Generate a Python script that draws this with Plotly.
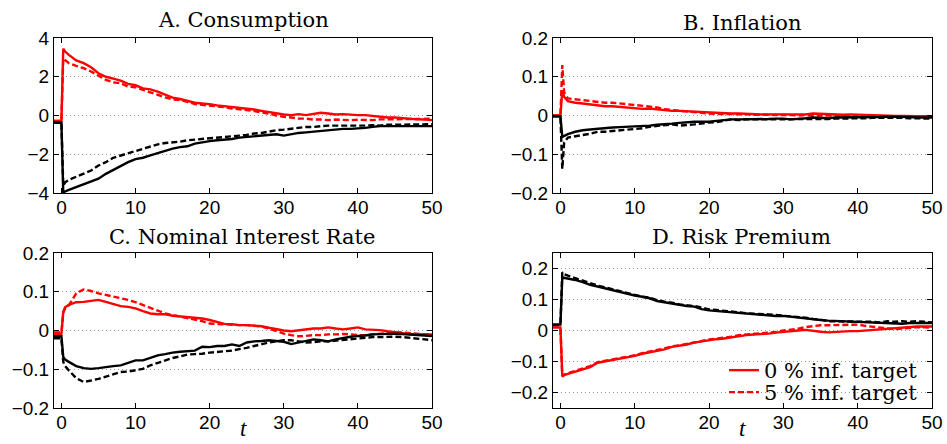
import plotly.graph_objects as go

# time grid (periods); shock hits at t = 0
t = [-1, 0, 0.25, 0.5] + list(range(1, 51))

# ---------------- A. Consumption ----------------
cons_red_0 = [-0.28, -0.28, 3.45, 3.30,
    3.13, 2.84, 2.70, 2.49, 2.18, 2.00, 1.90, 1.80, 1.63, 1.56,
    1.40, 1.35, 1.23, 1.06, 0.92, 0.85, 0.76, 0.66, 0.62, 0.59,
    0.52, 0.48, 0.43, 0.38, 0.35, 0.31, 0.24, 0.17, 0.10, 0.05,
    0.02, 0.07, 0.02, 0.09, 0.14, 0.10, 0.05, 0.07, 0.03, 0.02,
    0.02, -0.02, -0.07, -0.10, -0.10, -0.14, -0.17, -0.20, -0.21, -0.24]
cons_red_5 = [-0.28, -0.28, 2.95, 2.85,
    2.70, 2.56, 2.44, 2.27, 2.04, 1.84, 1.71, 1.66, 1.49, 1.45,
    1.32, 1.18, 1.06, 0.94, 0.83, 0.80, 0.71, 0.59, 0.55, 0.52,
    0.48, 0.43, 0.36, 0.33, 0.28, 0.23, 0.17, 0.10, 0.00, -0.07,
    -0.10, -0.16, -0.16, -0.21, -0.21, -0.24, -0.21, -0.24, -0.24, -0.22,
    -0.24, -0.24, -0.20, -0.20, -0.17, -0.20, -0.17, -0.17, -0.20, -0.17]
cons_blk_0 = [-0.38, -0.36, -4.00, -3.92,
    -3.84, -3.70, -3.57, -3.39, -3.26, -3.01, -2.81, -2.58, -2.41, -2.25,
    -2.18, -2.06, -1.94, -1.84, -1.71, -1.63, -1.59, -1.45, -1.37, -1.32,
    -1.28, -1.25, -1.21, -1.14, -1.11, -1.07, -1.04, -0.99, -0.97, -1.04,
    -0.97, -0.90, -0.87, -0.83, -0.78, -0.76, -0.73, -0.69, -0.69, -0.68,
    -0.64, -0.59, -0.54, -0.55, -0.54, -0.54, -0.55, -0.55, -0.55, -0.55]
cons_blk_5 = [-0.35, -0.35, -3.62, -3.45,
    -3.32, -3.15, -3.01, -2.84, -2.58, -2.41, -2.18, -2.06, -1.94, -1.84,
    -1.71, -1.59, -1.49, -1.42, -1.39, -1.35, -1.28, -1.25, -1.21, -1.18,
    -1.16, -1.11, -1.07, -1.04, -1.00, -0.93, -0.90, -0.83, -0.76, -0.73,
    -0.69, -0.64, -0.59, -0.59, -0.55, -0.52, -0.52, -0.52, -0.54, -0.55,
    -0.52, -0.50, -0.52, -0.48, -0.48, -0.48, -0.47, -0.45, -0.45, -0.45]

# ---------------- B. Inflation ----------------
infl_red_0 = [0.0, 0.0, 0.065, 0.048,
    0.037, 0.033, 0.031, 0.029, 0.027, 0.024, 0.024, 0.022, 0.020, 0.019,
    0.017, 0.018, 0.016, 0.014, 0.012, 0.012, 0.011, 0.010, 0.009, 0.007,
    0.006, 0.005, 0.005, 0.005, 0.004, 0.004, 0.003, 0.003, 0.003, 0.002,
    0.003, 0.002, 0.003, 0.005, 0.004, 0.003, 0.003, 0.002, 0.003, 0.002,
    0.001, 0.001, 0.000, 0.000, -0.001, -0.001, -0.002, -0.002, -0.002, -0.002]
infl_red_5 = [0.0, 0.0, 0.130, 0.060,
    0.044, 0.042, 0.040, 0.037, 0.035, 0.033, 0.033, 0.031, 0.029, 0.026,
    0.024, 0.022, 0.021, 0.016, 0.014, 0.012, 0.010, 0.009, 0.007, 0.005,
    0.004, 0.004, 0.003, 0.003, 0.003, 0.002, 0.002, 0.002, 0.001, 0.001,
    0.001, 0.000, 0.001, 0.000, 0.000, 0.001, 0.000, 0.000, 0.000, 0.000,
    -0.001, -0.001, -0.001, -0.002, -0.002, -0.002, -0.003, -0.003, -0.003, -0.003]
infl_blk_0 = [-0.002, -0.002, -0.055, -0.052,
    -0.048, -0.042, -0.038, -0.036, -0.034, -0.032, -0.031, -0.030, -0.029, -0.029,
    -0.028, -0.026, -0.024, -0.023, -0.021, -0.019, -0.017, -0.016, -0.016, -0.016,
    -0.014, -0.012, -0.010, -0.010, -0.010, -0.009, -0.009, -0.009, -0.008, -0.008,
    -0.010, -0.009, -0.007, -0.005, -0.006, -0.007, -0.005, -0.005, -0.004, -0.005,
    -0.004, -0.004, -0.004, -0.003, -0.003, -0.004, -0.004, -0.005, -0.005, -0.005]
infl_blk_5 = [-0.002, -0.002, -0.138, -0.070,
    -0.057, -0.054, -0.051, -0.047, -0.042, -0.042, -0.040, -0.038, -0.036, -0.035,
    -0.033, -0.029, -0.027, -0.025, -0.023, -0.026, -0.025, -0.023, -0.021, -0.018,
    -0.017, -0.014, -0.010, -0.012, -0.010, -0.010, -0.010, -0.010, -0.009, -0.009,
    -0.010, -0.010, -0.010, -0.009, -0.009, -0.009, -0.008, -0.008, -0.007, -0.007,
    -0.007, -0.006, -0.006, -0.006, -0.005, -0.006, -0.007, -0.007, -0.008, -0.008]

# ---------------- C. Nominal Interest Rate ----------------
rate_red_0 = [-0.009, -0.009, 0.048, 0.060,
    0.066, 0.073, 0.074, 0.076, 0.079, 0.074, 0.068, 0.063, 0.061, 0.057,
    0.050, 0.044, 0.042, 0.042, 0.038, 0.036, 0.035, 0.033, 0.031, 0.027,
    0.021, 0.017, 0.016, 0.014, 0.014, 0.013, 0.011, 0.007, 0.003, 0.000,
    -0.002, 0.000, 0.002, 0.005, 0.005, 0.008, 0.005, 0.003, 0.005, 0.008,
    0.003, 0.002, 0.001, -0.002, -0.005, -0.007, -0.009, -0.010, -0.010, -0.010]
rate_red_5 = [-0.005, -0.005, 0.045, 0.058,
    0.065, 0.096, 0.106, 0.102, 0.096, 0.092, 0.087, 0.083, 0.079, 0.073,
    0.066, 0.059, 0.050, 0.044, 0.040, 0.036, 0.033, 0.029, 0.024, 0.018,
    0.017, 0.016, 0.014, 0.014, 0.014, 0.012, 0.010, 0.005, -0.002, -0.008,
    -0.012, -0.015, -0.014, -0.012, -0.012, -0.010, -0.010, -0.009, -0.010, -0.012,
    -0.012, -0.010, -0.009, -0.006, -0.005, -0.005, -0.007, -0.009, -0.010, -0.010]
rate_blk_0 = [-0.015, -0.015, -0.068, -0.075,
    -0.081, -0.092, -0.097, -0.099, -0.097, -0.094, -0.092, -0.090, -0.083, -0.077,
    -0.077, -0.070, -0.064, -0.061, -0.057, -0.055, -0.054, -0.052, -0.042, -0.043,
    -0.040, -0.040, -0.036, -0.040, -0.031, -0.028, -0.027, -0.025, -0.027, -0.029,
    -0.035, -0.031, -0.027, -0.023, -0.025, -0.028, -0.023, -0.019, -0.016, -0.014,
    -0.013, -0.010, -0.009, -0.009, -0.008, -0.009, -0.010, -0.012, -0.013, -0.014]
rate_blk_5 = [-0.020, -0.020, -0.081, -0.092,
    -0.103, -0.123, -0.133, -0.129, -0.125, -0.119, -0.112, -0.107, -0.106, -0.103,
    -0.099, -0.090, -0.083, -0.077, -0.071, -0.067, -0.062, -0.061, -0.060, -0.057,
    -0.055, -0.054, -0.052, -0.048, -0.045, -0.040, -0.035, -0.031, -0.028, -0.025,
    -0.025, -0.028, -0.031, -0.030, -0.028, -0.028, -0.026, -0.024, -0.023, -0.021,
    -0.019, -0.017, -0.017, -0.016, -0.016, -0.017, -0.019, -0.021, -0.023, -0.025]

# ---------------- D. Risk Premium ----------------
risk_red_0 = [0.010, 0.010, -0.148, -0.144,
    -0.140, -0.132, -0.126, -0.118, -0.104, -0.100, -0.096, -0.091, -0.087, -0.082,
    -0.075, -0.071, -0.065, -0.061, -0.053, -0.050, -0.045, -0.039, -0.035, -0.031,
    -0.028, -0.026, -0.022, -0.017, -0.015, -0.013, -0.012, -0.010, -0.007, -0.004,
    -0.002, 0.000, 0.002, -0.002, -0.004, -0.006, -0.004, -0.002, -0.002, -0.002,
    0.000, 0.002, 0.004, 0.006, 0.009, 0.011, 0.011, 0.013, 0.013, 0.013]
risk_red_5 = [0.010, 0.010, -0.146, -0.142,
    -0.138, -0.130, -0.124, -0.115, -0.102, -0.098, -0.094, -0.089, -0.085, -0.080,
    -0.073, -0.069, -0.063, -0.058, -0.051, -0.048, -0.043, -0.037, -0.033, -0.029,
    -0.026, -0.024, -0.020, -0.015, -0.013, -0.011, -0.010, -0.008, -0.005, 0.000,
    0.002, 0.006, 0.011, 0.015, 0.017, 0.017, 0.018, 0.019, 0.019, 0.019,
    0.015, 0.012, 0.009, 0.006, 0.004, 0.006, 0.009, 0.011, 0.010, 0.009]
risk_blk_0 = [0.019, 0.019, 0.171, 0.170,
    0.169, 0.163, 0.156, 0.147, 0.142, 0.136, 0.131, 0.126, 0.118, 0.113,
    0.109, 0.104, 0.095, 0.091, 0.087, 0.082, 0.079, 0.077, 0.069, 0.065,
    0.063, 0.061, 0.057, 0.056, 0.054, 0.052, 0.050, 0.048, 0.047, 0.047,
    0.044, 0.041, 0.039, 0.037, 0.034, 0.032, 0.031, 0.030, 0.029, 0.028,
    0.027, 0.026, 0.024, 0.022, 0.022, 0.022, 0.024, 0.024, 0.024, 0.024]
risk_blk_5 = [0.019, 0.019, 0.188, 0.182,
    0.177, 0.169, 0.160, 0.152, 0.145, 0.139, 0.133, 0.126, 0.120, 0.115,
    0.109, 0.106, 0.098, 0.093, 0.090, 0.084, 0.082, 0.079, 0.074, 0.068,
    0.066, 0.063, 0.061, 0.058, 0.056, 0.054, 0.054, 0.052, 0.050, 0.048,
    0.045, 0.043, 0.041, 0.037, 0.035, 0.030, 0.030, 0.028, 0.028, 0.030,
    0.028, 0.028, 0.026, 0.030, 0.028, 0.030, 0.028, 0.030, 0.028, 0.026]

panel_titles = ["A. Consumption", "B. Inflation", "C. Nominal Interest Rate", "D. Risk Premium"]
legend_names = ["0 % inf. target", "5 % inf. target"]
x_ticks = [0, 10, 20, 30, 40, 50]
y_ticks_cons = [-4, -2, 0, 2, 4]
y_ticks_small = [-0.2, -0.1, 0, 0.1, 0.2]

panels = [
    (cons_red_0, cons_red_5, cons_blk_0, cons_blk_5, [-4, 4], y_ticks_cons),
    (infl_red_0, infl_red_5, infl_blk_0, infl_blk_5, [-0.2, 0.2], y_ticks_small),
    (rate_red_0, rate_red_5, rate_blk_0, rate_blk_5, [-0.2, 0.2], y_ticks_small),
    (risk_red_0, risk_red_5, risk_blk_0, risk_blk_5, [-0.25, 0.25], y_ticks_small),
]

W, H = 947, 444
# plot-area pixel boxes: (left, right, top, bottom)
boxes = [(54, 432, 38, 193), (553, 932, 38, 193), (54, 432, 253, 408), (553, 932, 253, 408)]

RED = "#ff0000"
BLK = "#000000"
LW = 2.4
DASH = "6px,3px"

fig = go.Figure()
layout = {}
for i, (r0, r5, b0, b5, yr, yt) in enumerate(panels):
    n = i + 1
    xa = "x" if n == 1 else f"x{n}"
    ya = "y" if n == 1 else f"y{n}"
    show = (n == 4)
    fig.add_trace(go.Scatter(x=t, y=r0, mode="lines", xaxis=xa, yaxis=ya,
                             line=dict(color=RED, width=LW), name=legend_names[0],
                             showlegend=show, legend="legend"))
    fig.add_trace(go.Scatter(x=t, y=r5, mode="lines", xaxis=xa, yaxis=ya,
                             line=dict(color=RED, width=LW, dash=DASH), name=legend_names[1],
                             showlegend=show, legend="legend2"))
    fig.add_trace(go.Scatter(x=t, y=b0, mode="lines", xaxis=xa, yaxis=ya,
                             line=dict(color=BLK, width=LW), showlegend=False))
    fig.add_trace(go.Scatter(x=t, y=b5, mode="lines", xaxis=xa, yaxis=ya,
                             line=dict(color=BLK, width=LW, dash=DASH), showlegend=False))
    l, r, tp, bt = boxes[i]
    common = dict(showline=True, linecolor="black", linewidth=1, mirror="ticks",
                  ticks="inside", ticklen=5, tickwidth=1, tickcolor="black",
                  zeroline=False, automargin=False,
                  tickfont=dict(family="Liberation Sans", size=19, color="black"))
    layout["xaxis" if n == 1 else f"xaxis{n}"] = dict(
        domain=[l / W, r / W], anchor=ya, range=[-1, 50], tickvals=x_ticks,
        showgrid=False, ticklabelstandoff=-3, **common)
    layout["yaxis" if n == 1 else f"yaxis{n}"] = dict(
        domain=[1 - bt / H, 1 - tp / H], anchor=xa, range=yr, tickvals=yt,
        showgrid=True, gridcolor="#9a9a9a", gridwidth=1, griddash="1px,3px",
        ticklabelstandoff=0, **common)

title_pos = [(243, 20), (742, 23), (242, 237), (741, 237)]
annotations = []
for (cx, cy), txt in zip(title_pos, panel_titles):
    annotations.append(dict(text=txt, x=cx / W, y=1 - cy / H, xref="paper", yref="paper",
                            xanchor="center", yanchor="middle", showarrow=False,
                            font=dict(family="DejaVu Serif", size=21, color="black")))
for cx in (243, 742):
    annotations.append(dict(text="t", x=cx / W, y=1 / H, xref="paper", yref="paper",
                            xanchor="center", yanchor="bottom", showarrow=False,
                            font=dict(family="Liberation Serif", size=23, color="black",
                                      style="italic")))

leg_common = dict(xanchor="left", yanchor="top", bgcolor="rgba(0,0,0,0)", borderwidth=0,
                  font=dict(family="DejaVu Serif", size=21, color="black"), itemwidth=30)

fig.update_layout(
    width=W, height=H, margin=dict(l=0, r=0, t=0, b=0, autoexpand=False),
    paper_bgcolor="white", plot_bgcolor="white",
    annotations=annotations,
    legend=dict(x=724 / W, y=1 - 350 / H, **leg_common),
    legend2=dict(x=724 / W, y=1 - 372 / H, **leg_common),
    **layout,
)

fig.write_html("out.html")
